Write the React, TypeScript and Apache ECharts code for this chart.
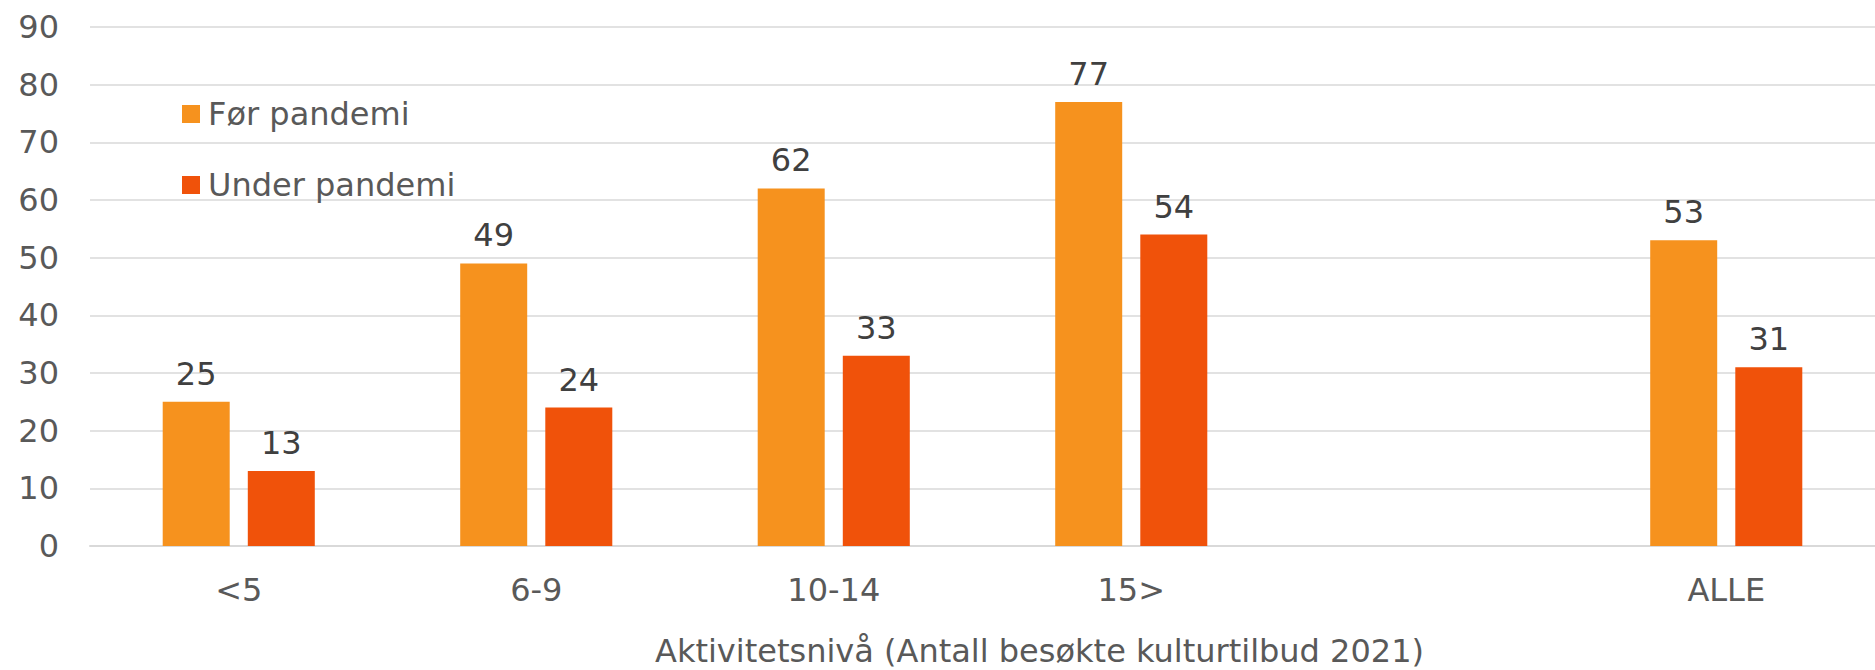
import React, { useEffect, useRef } from "react";
import * as echarts from "echarts";

const categories = ["<5", "6-9", "10-14", "15>", "", "ALLE"];
const forPandemi = [25, 49, 62, 77, null, 53];
const underPandemi = [13, 24, 33, 54, null, 31];
const yTicks = { min: 0, max: 90, interval: 10 };
const seriesNames = ["Før pandemi", "Under pandemi"];
const axisTitle = "Aktivitetsnivå (Antall besøkte kulturtilbud 2021)";

const FONT = "DejaVu Sans";
const ORANGE = "#F6921E";
const RED = "#F0520A";

export default function App() {
  const ref = useRef<HTMLDivElement>(null);
  useEffect(() => {
    if (!ref.current) return;
    const chart = echarts.init(ref.current, undefined, { renderer: "svg" });
    const label = {
      show: true,
      position: "top" as const,
      distance: 12,
      color: "#404040",
      fontFamily: FONT,
      fontSize: 32,
    };
    chart.setOption({
      animation: false,
      backgroundColor: "#ffffff",
      textStyle: { fontFamily: FONT },
      grid: { left: 90, top: 27, width: 1810, height: 519, containLabel: false },
      legend: {
        orient: "vertical",
        left: 182,
        top: 98,
        padding: 0,
        itemWidth: 18,
        itemHeight: 18,
        itemGap: 39,
        icon: "rect",
        textStyle: { fontFamily: FONT, fontSize: 32, color: "#595959", padding: [0, 0, 0, 3] },
        data: seriesNames,
      },
      xAxis: {
        type: "category",
        data: categories,
        boundaryGap: true,
        axisTick: { show: false },
        axisLine: { show: true, lineStyle: { color: "#D9D9D9", width: 2 } },
        axisLabel: { interval: 0, margin: 28, color: "#595959", fontFamily: FONT, fontSize: 32 },
      },
      yAxis: {
        type: "value",
        min: yTicks.min,
        max: yTicks.max,
        interval: yTicks.interval,
        axisLine: { show: false },
        axisTick: { show: false },
        splitLine: { lineStyle: { color: "#D9D9D9", width: 1.5 } },
        axisLabel: { margin: 31, color: "#595959", fontFamily: FONT, fontSize: 32 },
      },
      graphic: [
        {
          type: "text",
          left: 655,
          top: 635,
          style: {
            text: axisTitle,
            fill: "#595959",
            font: `32px "${FONT}"`,
          },
        },
      ],
      series: [
        {
          name: seriesNames[0],
          type: "bar",
          data: forPandemi,
          barWidth: 67,
          barGap: "27%",
          itemStyle: { color: ORANGE },
          label,
        },
        {
          name: seriesNames[1],
          type: "bar",
          data: underPandemi,
          barWidth: 67,
          barGap: "27%",
          itemStyle: { color: RED },
          label,
        },
      ],
    });
    return () => chart.dispose();
  }, []);
  return (
    <div
      ref={ref}
      style={{ position: "absolute", left: 0, top: 0, width: 1875, height: 670, overflow: "hidden" }}
    />
  );
}
